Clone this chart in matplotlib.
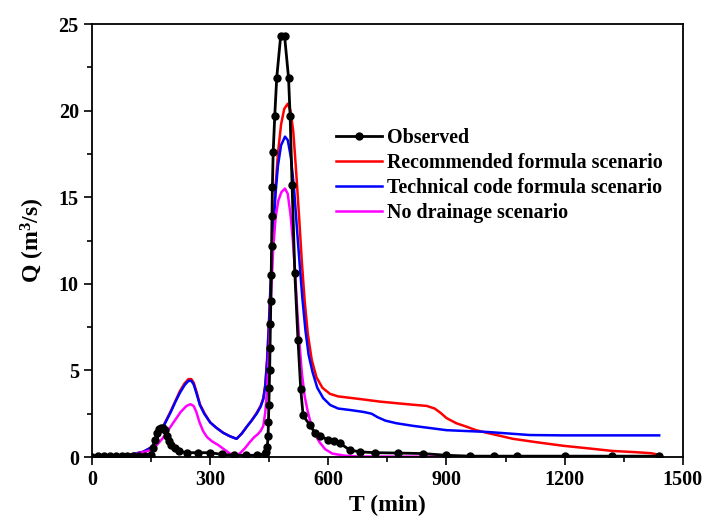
import matplotlib
matplotlib.use("Agg")
import matplotlib.pyplot as plt
from matplotlib.ticker import MultipleLocator

plt.rcParams['font.family'] = ['Liberation Serif', 'DejaVu Serif']
plt.rcParams['font.weight'] = 'bold'
plt.rcParams['mathtext.fontset'] = 'custom'
plt.rcParams['mathtext.rm'] = 'Liberation Serif:bold'
plt.rcParams['mathtext.bf'] = 'Liberation Serif:bold'
plt.rcParams['mathtext.default'] = 'bf'

# observed hydrograph
t_obs = [0, 15, 30, 45, 60, 75, 90, 105, 120, 135, 150, 155, 160, 165, 170, 175,
         180, 185, 190, 195, 200, 210, 220, 240, 270, 300, 330, 360, 390, 420, 440,
         443, 445, 447, 448, 449, 450, 451, 452, 453, 454, 455, 456, 457, 458, 460,
         464, 469, 479, 489, 499, 503, 508, 515, 523, 530, 536, 553, 566, 580, 599,
         615, 629, 655, 680, 718, 777, 840, 900, 960, 1020, 1080, 1200, 1320, 1440]
q_obs = [0.0, 0.05, 0.05, 0.05, 0.05, 0.05, 0.05, 0.05, 0.05, 0.05, 0.1, 0.5, 1.0, 1.4, 1.6, 1.65,
         1.65, 1.55, 1.2, 0.9, 0.7, 0.5, 0.35, 0.25, 0.25, 0.25, 0.15, 0.1, 0.1, 0.1, 0.2,
         0.3, 0.6, 1.2, 2.0, 3.0, 4.0, 5.0, 6.3, 7.7, 9.0, 10.5, 12.2, 13.9, 15.6, 17.6,
         19.7, 21.9, 24.3, 24.3, 21.9, 19.7, 15.7, 10.6, 6.75, 3.9, 2.4, 1.85, 1.4, 1.2, 1.0,
         0.9, 0.8, 0.4, 0.3, 0.25, 0.23, 0.2, 0.1, 0.05, 0.05, 0.05, 0.05, 0.05, 0.05]

# recommended formula scenario
t_rec = [0, 60, 100, 130, 150, 160, 170, 180, 190, 200, 212, 223, 235, 245, 252, 258,
         265, 274, 285, 300, 315, 333, 350, 367, 380, 393, 405, 418, 428, 435, 440,
         445, 450, 455, 460, 466, 472, 480, 488, 497, 504, 511, 518, 526, 533, 540,
         548, 558, 570, 585, 604, 625, 680, 731, 800, 850, 870, 885, 900, 925, 951,
         975, 1002, 1069, 1130, 1196, 1260, 1322, 1380, 1420, 1440]
q_rec = [0.02, 0.05, 0.15, 0.3, 0.55, 0.85, 1.3, 1.75, 2.2, 2.65, 3.25, 3.8, 4.25, 4.5, 4.5, 4.3,
         3.8, 3.05, 2.55, 2.0, 1.7, 1.4, 1.2, 1.05, 1.35, 1.75, 2.1, 2.55, 2.95, 3.4, 4.2,
         5.8, 8.2, 10.8, 13.2, 15.6, 17.5, 19.2, 20.1, 20.4, 20.0, 18.8, 16.6, 13.8, 11.2, 9.0,
         7.1, 5.6, 4.6, 4.0, 3.65, 3.5, 3.35, 3.2, 3.05, 2.95, 2.8, 2.55, 2.25, 1.95, 1.75,
         1.55, 1.4, 1.05, 0.85, 0.65, 0.5, 0.35, 0.28, 0.22, 0.12]

# technical code formula scenario
t_tec = [0, 60, 100, 130, 150, 160, 170, 180, 190, 200, 212, 223, 235, 245, 252, 258,
         265, 274, 285, 300, 315, 333, 350, 367, 380, 393, 405, 418, 428, 435, 440,
         445, 450, 455, 460, 466, 472, 480, 490, 497, 505, 513, 520, 527, 534, 542,
         550, 560, 572, 587, 605, 625, 660, 690, 710, 725, 745, 773, 815, 900, 1002,
         1111, 1196, 1440]
q_tec = [0.02, 0.05, 0.15, 0.3, 0.55, 0.85, 1.3, 1.7, 2.15, 2.6, 3.2, 3.7, 4.15, 4.4, 4.4, 4.2,
         3.7, 3.0, 2.5, 2.0, 1.7, 1.4, 1.2, 1.05, 1.35, 1.75, 2.1, 2.5, 2.9, 3.35, 4.1,
         5.6, 8.0, 10.7, 13.0, 15.2, 16.8, 18.0, 18.5, 18.3, 17.3, 15.5, 13.3, 11.2, 9.2, 7.3,
         5.9, 4.9, 4.0, 3.4, 3.0, 2.8, 2.7, 2.6, 2.5, 2.3, 2.1, 1.95, 1.8, 1.55, 1.45,
         1.27, 1.25, 1.25]

# no drainage scenario
t_nod = [0, 60, 100, 150, 165, 180, 195, 210, 225, 240, 250, 258, 265, 273, 282, 292,
         305, 320, 335, 350, 363, 375, 388, 401, 412, 420, 428, 435, 440, 445, 450,
         455, 460, 466, 473, 481, 490, 497, 504, 510, 516, 521, 527, 533, 540, 548,
         556, 566, 578, 592, 610, 640, 680, 900, 1200, 1440]
q_nod = [0.0, 0.03, 0.1, 0.4, 0.7, 1.1, 1.6, 2.1, 2.6, 2.95, 3.05, 2.95, 2.6, 2.0, 1.5, 1.15,
         0.9, 0.7, 0.45, 0.2, 0.1, 0.2, 0.5, 0.87, 1.15, 1.3, 1.5, 1.8, 2.6, 4.0, 6.5,
         9.5, 12.0, 13.8, 14.8, 15.3, 15.5, 15.2, 14.0, 12.5, 10.5, 8.5, 6.5, 4.8, 3.5, 2.6,
         1.9, 1.3, 0.85, 0.45, 0.2, 0.08, 0.03, 0.02, 0.02, 0.02]

fig = plt.figure(figsize=(7.05, 5.21), dpi=100)
ax = fig.add_axes([0.1305, 0.1228, 0.838, 0.831])

ax.plot(t_obs, q_obs, color='black', lw=2, marker='o', ms=5, label='Observed', zorder=5)
ax.plot(t_rec, q_rec, color='#ff0000', lw=1.8, label='Recommended formula scenario')
ax.plot(t_tec, q_tec, color='#0000ff', lw=1.8, label='Technical code formula scenario')
ax.plot(t_nod, q_nod, color='#ff00ff', lw=1.8, label='No drainage scenario')

ax.set_xlim(0, 1500)
ax.set_ylim(0, 25)
ax.xaxis.set_major_locator(MultipleLocator(300))
ax.xaxis.set_minor_locator(MultipleLocator(150))
ax.yaxis.set_major_locator(MultipleLocator(5))
ax.yaxis.set_minor_locator(MultipleLocator(2.5))
ax.tick_params(which='both', direction='out', top=False, right=False, labelsize=14.5, width=1.2)
ax.tick_params(which='major', length=6)
ax.tick_params(which='minor', length=3.5)
for s in ax.spines.values():
    s.set_linewidth(1.3)

ax.set_xlabel('T (min)', fontsize=17, fontweight='bold', labelpad=3)
ax.set_ylabel('Q (m$^3$/s)', fontsize=17, fontweight='bold', labelpad=8)

leg = ax.legend(loc='upper left', bbox_to_anchor=(0.40, 0.778), frameon=False,
                prop={'size': 14.4, 'weight': 'bold'}, handlelength=2.3,
                handletextpad=0.25, labelspacing=0.25, borderaxespad=0)

fig.savefig('out.png', dpi=100)
